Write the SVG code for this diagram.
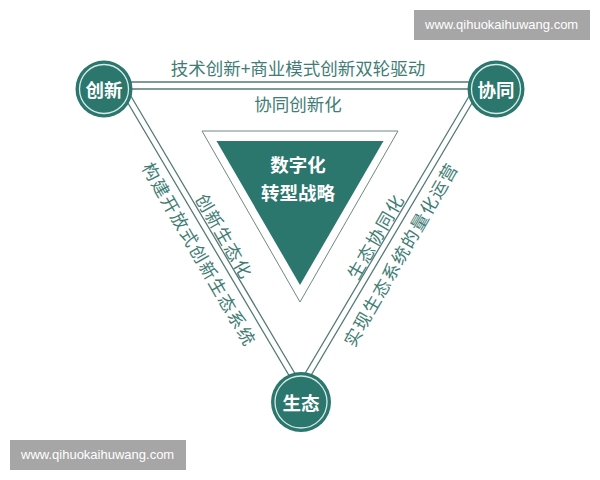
<svg xmlns="http://www.w3.org/2000/svg" width="600" height="480" viewBox="0 0 600 480">
<style>
.ln{fill:none;stroke:#557a75;stroke-width:1.3}
.nodec{fill:#2b776e}
.ring{fill:none;stroke:#d6ebe8;stroke-width:1.3}
.nt{font-family:"Noto Sans CJK SC","Noto Sans",sans-serif;font-weight:bold;fill:#ffffff;text-anchor:middle;dominant-baseline:central}
.lb{font-family:"Noto Sans CJK SC","Noto Sans",sans-serif;fill:#3f7d75;font-size:17.5px;text-anchor:middle;dominant-baseline:central}
.wm{font-family:"Liberation Sans",Arial,sans-serif;fill:#ffffff;font-size:13px}
</style>
<rect width="600" height="480" fill="#ffffff"/>
<g id="connectors">
<polygon class="ln" points="115.5,82 484.5,82 300,394"/>
<polygon class="ln" points="126.7,89 473.3,89 300,382"/>
</g>
<g id="labels">
<text class="lb" x="298" y="67" font-size="18">技术创新+商业模式创新双轮驱动</text>
<text class="lb" x="298" y="103" font-size="18">协同创新化</text>
<text class="lb" transform="translate(200,254) rotate(60)" letter-spacing="1.5">构建开放式创新生态系统</text>
<text class="lb" transform="translate(225,236) rotate(60)" letter-spacing="1.5">创新生态化</text>
<text class="lb" transform="translate(400,254) rotate(-60)" letter-spacing="1.5">实现生态系统的量化运营</text>
<text class="lb" transform="translate(375,236) rotate(-60)" letter-spacing="1.5">生态协同化</text>
</g>
<g id="core">
<polygon points="202,131 398,131 300,302" fill="none" stroke="#6f8884" stroke-width="1"/>
<polygon points="216.5,141 383.5,141 300,285" fill="#2b776e"/>
<text class="nt" x="298" y="164" font-size="18.5">数字化</text>
<text class="nt" x="298" y="191.5" font-size="18.5">转型战略</text>
</g>
<g id="node-chuangxin">
<circle class="nodec" cx="104" cy="89" r="28.5"/>
<circle class="ring" cx="104" cy="89" r="24.5"/>
<text class="nt" x="104" y="89" font-size="18.5">创新</text>
</g>
<g id="node-xietong">
<circle class="nodec" cx="496" cy="89" r="28.5"/>
<circle class="ring" cx="496" cy="89" r="24.5"/>
<text class="nt" x="496" y="89" font-size="18.5">协同</text>
</g>
<g id="node-shengtai">
<circle class="nodec" cx="301" cy="402" r="30"/>
<circle class="ring" cx="301" cy="402" r="26"/>
<text class="nt" x="301" y="402" font-size="18.5">生态</text>
</g>
<g id="watermarks">
<rect x="414" y="10" width="176" height="30" fill="#a6a6a6"/>
<text class="wm" x="425" y="29">www.qihuokaihuwang.com</text>
<rect x="10" y="440" width="176" height="30" fill="#a6a6a6"/>
<text class="wm" x="21" y="459">www.qihuokaihuwang.com</text>
</g>
</svg>
